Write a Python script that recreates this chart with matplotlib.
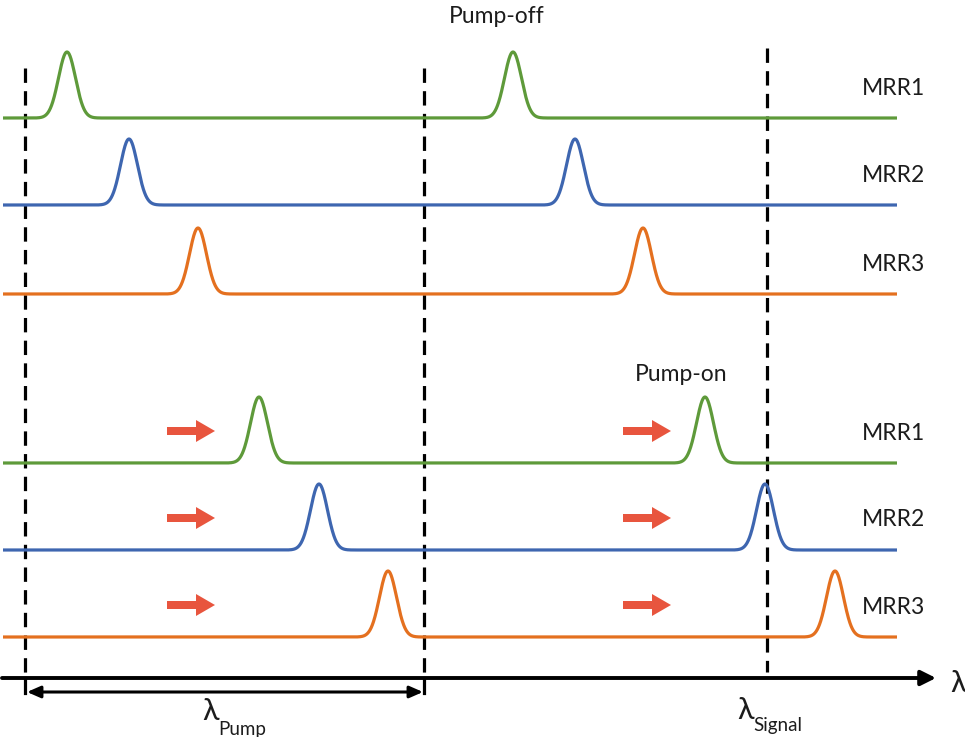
import numpy as np
import matplotlib
matplotlib.use("Agg")
import matplotlib.pyplot as plt

# Resonance centres (wavelength axis units) for each micro-ring, pump off / pump on
rings = ["MRR1", "MRR2", "MRR3"]
peaks_off = [[67, 513], [129, 575], [198, 643]]
peaks_on = [[259, 705], [319, 765], [388, 835]]
baselines_off = [118, 205, 294]
baselines_on = [463, 550, 637]
colors = ["#5e9a3a", "#3e66b0", "#e4701f"]

peak_height = 66
sigma = 8.5
lam_pump = [25, 424]
lam_signal = 767

fig = plt.figure(figsize=(9.65, 7.37), dpi=100)
ax = fig.add_axes([0, 0, 1, 1])
ax.set_xlim(0, 965)
ax.set_ylim(737, 0)
ax.axis("off")

font = "Lato"
ink = "#1c1c1c"
x = np.linspace(3, 897, 3000)


def trace(y0, centers, color):
    y = np.zeros_like(x)
    for c in centers:
        y += peak_height * np.exp(-0.5 * ((x - c) / sigma) ** 2)
    ax.plot(x, y0 - y, color=color, lw=2.3, solid_capstyle="butt", zorder=3)


for name, y0, pk, col in zip(rings, baselines_off, peaks_off, colors):
    trace(y0, pk, col)
    ax.text(893, y0 - 30, name, fontsize=16.5, family=font, ha="center",
            va="center", color=ink)

for name, y0, pk, col in zip(rings, baselines_on, peaks_on, colors):
    trace(y0, pk, col)
    ax.text(893, y0 - 30, name, fontsize=16.5, family=font, ha="center",
            va="center", color=ink)
    for xs in (623, 167):
        ax.arrow(xs, y0 - 32, 29, 0, width=8, head_width=22, head_length=19,
                 length_includes_head=False, color="#e8553e", lw=0, zorder=4)

ax.text(497, 16, "Pump-off", fontsize=16.5, family=font, ha="center",
        va="center", color=ink)
ax.text(681, 374, "Pump-on", fontsize=16.5, family=font, ha="center",
        va="center", color=ink)

# dashed markers for pump band edges and signal wavelength
dash = (0, (4.5, 2.6))
for xv in lam_pump:
    ax.plot([xv, xv], [68, 676], color="black", lw=2.3, ls=dash, zorder=2)
    ax.plot([xv, xv], [678, 693], color="black", lw=2.3, zorder=2)
ax.plot([lam_signal, lam_signal], [48, 672], color="black", lw=2.3,
        ls=dash, zorder=2)

# wavelength axis
ax.annotate("", xy=(936, 678), xytext=(2, 678),
            arrowprops=dict(arrowstyle="-|>,head_length=0.9,head_width=0.45",
                            lw=2.8, color="black", shrinkA=0, shrinkB=0))
ax.text(950, 683, "λ", fontsize=22, family=font, ha="left", va="center",
        color=ink)

# pump band span
ax.annotate("", xy=(lam_pump[0] + 2, 692), xytext=(lam_pump[1] - 1, 692),
            arrowprops=dict(arrowstyle="<|-|>,head_length=0.8,head_width=0.35",
                            lw=2.2, color="black", shrinkA=0, shrinkB=0))

ax.text(202, 711, "λ", fontsize=22, family=font, ha="left", va="center",
        color=ink)
ax.text(218, 729, "Pump", fontsize=13.5, family=font, ha="left", va="center",
        color=ink)
ax.text(737, 710, "λ", fontsize=22, family=font, ha="left", va="center",
        color=ink)
ax.text(753, 726, "Signal", fontsize=13.5, family=font, ha="left",
        va="center", color=ink)

fig.savefig("out.png", dpi=100)
